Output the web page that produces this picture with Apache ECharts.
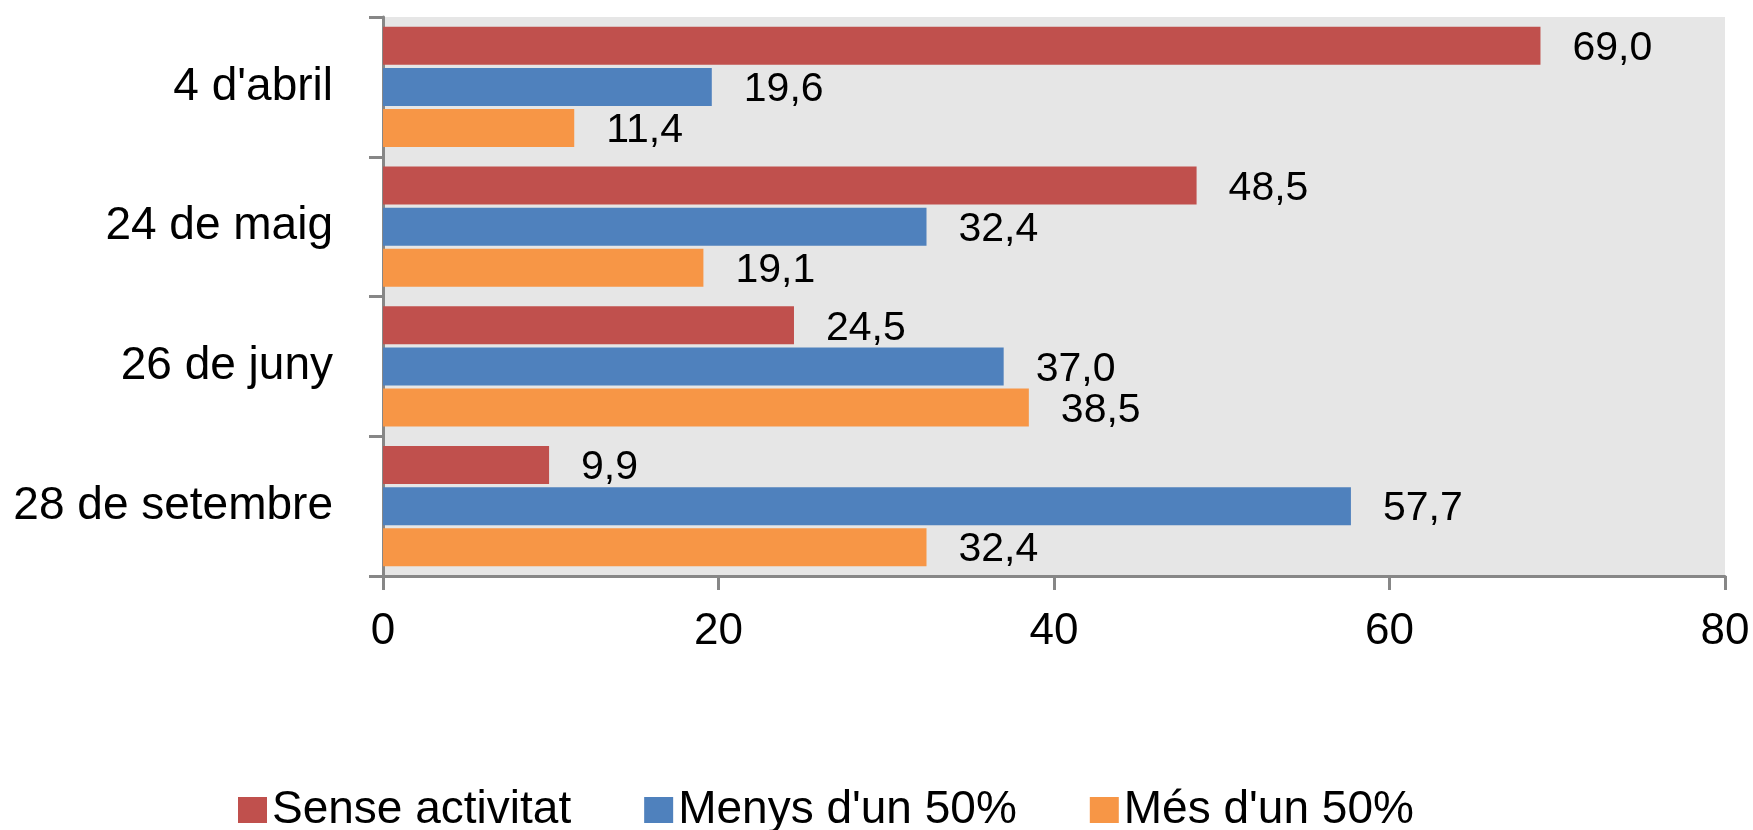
<!DOCTYPE html>
<html>
<head>
<meta charset="utf-8">
<script src="https://cdn.jsdelivr.net/npm/echarts@6/dist/echarts.min.js"></script>
<style>
  html, body { margin: 0; padding: 0; background: #fff; }
  #main { width: 1753px; height: 830px; }
</style>
</head>
<body>
<div id="main"></div>
<script>
const categories = ["4 d'abril", "24 de maig", "26 de juny", "28 de setembre"];
const senseActivitat = [69.0, 48.5, 24.5, 9.9];
const menysDun50 = [19.6, 32.4, 37.0, 57.7];
const mesDun50 = [11.4, 19.1, 38.5, 32.4];
const xTicks = [0, 20, 40, 60, 80];

const FONT = "Liberation Sans";
const fmt = (v) => v.toFixed(1).replace(".", ",");

const chart = echarts.init(document.getElementById("main"));

function barSeries(name, data, color) {
  return {
    name: name,
    type: "bar",
    data: data,
    barWidth: 38,
    barGap: "8%",
    itemStyle: { color: color },
    label: {
      show: true,
      position: "right",
      distance: 32,
      offset: [0, 3],
      color: "#000",
      fontFamily: FONT,
      fontSize: 41,
      formatter: (p) => fmt(p.value),
    },
  };
}

const option = {
  animation: false,
  backgroundColor: "#fff",
  grid: {
    left: 383,
    right: 28,
    top: 17,
    bottom: 254,
    show: true,
    backgroundColor: "#E6E6E6",
    borderWidth: 0,
  },
  legend: {
    left: 233,
    top: 782,
    itemWidth: 29,
    itemHeight: 26,
    itemGap: 73,
    icon: "rect",
    textStyle: { fontFamily: FONT, fontSize: 46, color: "#000", padding: [0, 0, 0, 0] },
    data: ["Sense activitat", "Menys d'un 50%", "Més d'un 50%"],
  },
  xAxis: {
    type: "value",
    min: xTicks[0],
    max: xTicks[xTicks.length - 1],
    interval: 20,
    splitLine: { show: false },
    axisLine: { show: true, lineStyle: { color: "#878787", width: 3 } },
    axisTick: { show: true, length: 14, lineStyle: { color: "#878787", width: 3 } },
    axisLabel: { color: "#000", fontFamily: FONT, fontSize: 44, margin: 34 },
  },
  yAxis: {
    type: "category",
    data: categories,
    inverse: true,
    axisLine: { show: true, lineStyle: { color: "#878787", width: 3 } },
    axisTick: { show: true, length: 14, lineStyle: { color: "#878787", width: 3 } },
    axisLabel: { color: "#000", fontFamily: FONT, fontSize: 46, margin: 50 },
  },
  series: [
    barSeries("Sense activitat", senseActivitat, "#C0504D"),
    barSeries("Menys d'un 50%", menysDun50, "#4F81BD"),
    barSeries("Més d'un 50%", mesDun50, "#F79646"),
  ],
};

chart.setOption(option);
</script>
</body>
</html>
